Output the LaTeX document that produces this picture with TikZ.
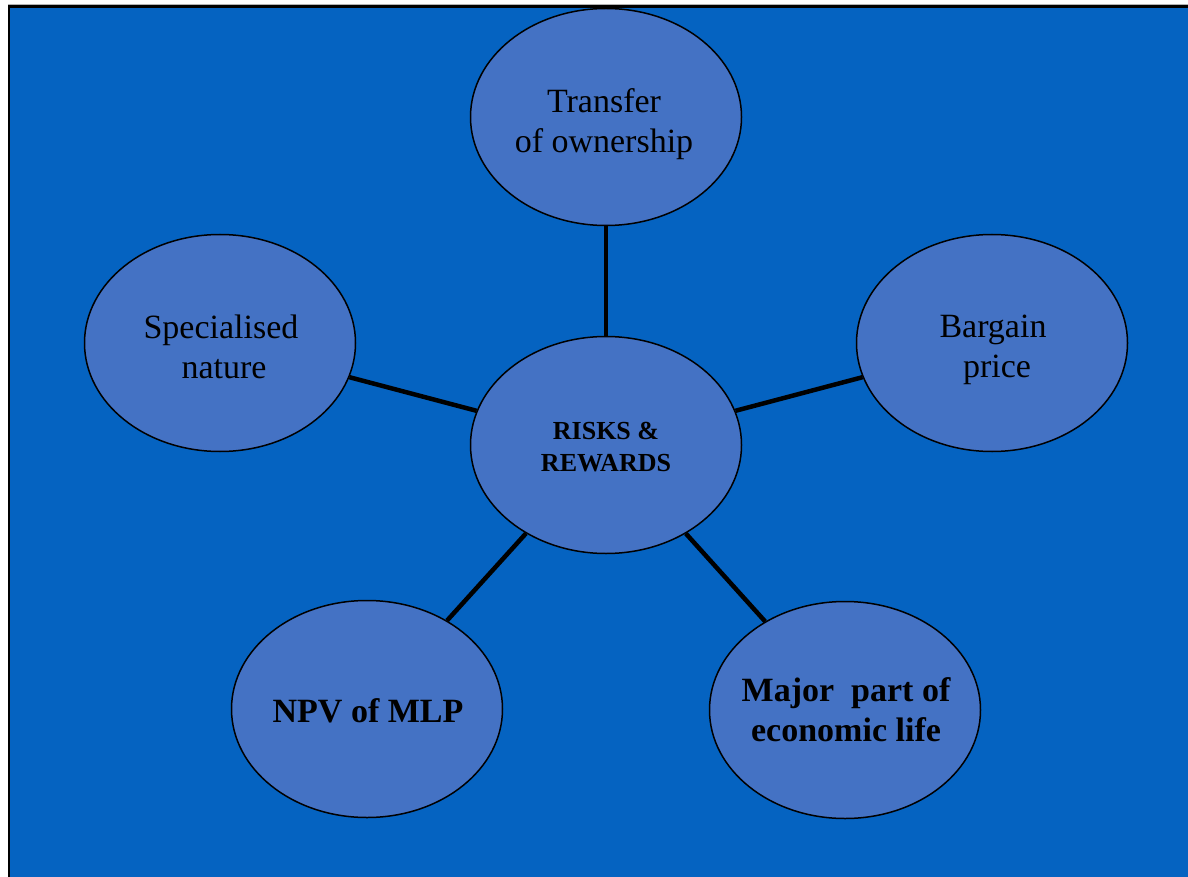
\documentclass[tikz,border=0pt]{standalone}
\usepackage{fontspec}
\setmainfont{Liberation Serif}
\usetikzlibrary{shapes.geometric}
\definecolor{bgblue}{HTML}{0563C1}
\definecolor{ellblue}{HTML}{4472C4}
\tikzset{
  bubble/.style={ellipse, draw=black, line width=1.5pt, fill=ellblue,
    minimum width=271pt, minimum height=217pt, inner sep=0pt},
  txt/.style={align=center, inner sep=0pt, font=\fontsize{34}{40}\selectfont},
  bigbold/.style={txt, font=\fontsize{34}{40}\selectfont\bfseries},
  centrebold/.style={txt, font=\fontsize{26}{32}\selectfont\bfseries},
  link/.style={line width=4.5pt, draw=black}
}
\begin{document}
\begin{tikzpicture}[x=1pt,y=-1pt]
\useasboundingbox (0,0) rectangle (1188,877);
\fill[bgblue] (9,6) rectangle (1190,880);
\draw[gray!60, line width=1pt] (8,4.5) -- (1190,4.5);
\draw[black, line width=2.2pt] (9,880) -- (9,6.5) -- (1190,6.5);

\node[bubble] (top) at (606,117) {};
\node[bubble] (left) at (220,343) {};
\node[bubble] (right) at (992,343) {};
\node[bubble] (centre) at (606,445) {};
\node[bubble] (bl) at (367,709) {};
\node[bubble] (br) at (845,710) {};

\node[txt] (toptext) at (604,124) {Transfer\\of ownership};
\node[txt] (lefttext) at (221,347) {Specialised\\\hspace*{6pt}nature};
\node[txt] (righttext) at (993,350) {Bargain\\\hspace*{8pt}price};
\node[centrebold] (centretext) at (606,447) {RISKS \&\\REWARDS};
\node[bigbold] (bltext) at (368,711) {NPV of MLP};
\node[bigbold] (brtext) at (846,710) {Major\ \ part of\\economic life};

\draw[link] (centre) -- (top);
\draw[link] (centre) -- (left);
\draw[link] (centre) -- (right);
\draw[link] (centre) -- (bl);
\draw[link] (centre) -- (br);
\end{tikzpicture}
\end{document}
